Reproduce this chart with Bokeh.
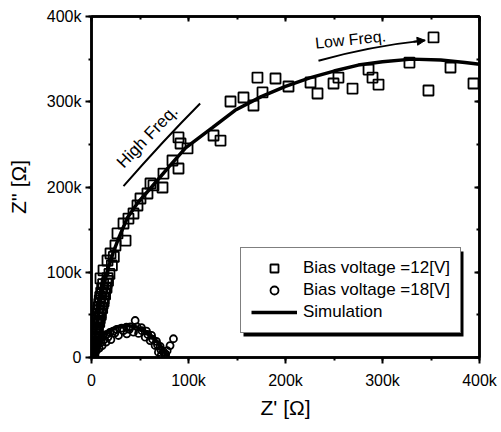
from bokeh.plotting import figure
from bokeh.models import (Range1d, SingleIntervalTicker, LinearAxis, CustomJSTickFormatter,
                          Arrow, NormalHead, Label, BoxAnnotation)
from bokeh.embed import file_html
from bokeh.resources import INLINE

# ---- data (kOhm) ----
z12_re = [0.5, 1.0, 1.5, 2.0, 2.5, 3.0, 3.5, 4.0, 4.5, 5.0, 5.5, 6.0, 6.5, 7.0, 7.5, 8.0,
          8.5, 9.0, 10.0, 11.0, 12.0,
          1.5, 2.5, 3.5, 4.5, 5.5, 6.5, 7.5, 8.5, 9.5, 10.5, 11.5, 12.5, 13.5, 14.5, 15.5, 16.5,
          2.0, 3.5, 5.0, 6.5, 8.0, 9.5, 11.0, 12.5, 14.0, 15.5, 17.0, 18.5, 21.0, 23.0,
          9.3, 12.4, 16.5, 19.6, 24.7, 26.8, 35.1, 33.0, 38.1, 43.3, 47.4, 50.5, 57.7, 60.8,
          63.9, 73.2, 74.2, 89.7, 83.5, 99.0, 91.8, 89.7, 133.0, 125.8, 143.3, 156.7, 167.0,
          176.3, 171.1, 189.7, 203.1, 225.8, 233.0, 249.5, 254.6, 269.1, 285.6, 289.7, 295.9,
          327.8, 347.4, 352.6, 370.1, 393.8]
z12_im = [3, 7, 11, 15, 19, 23, 27, 31, 35, 39, 43, 47, 51, 55, 59, 63,
          67, 71, 76, 81, 86,
          6, 12, 18, 23, 29, 35, 41, 46, 52, 58, 63, 69, 75, 81, 87, 93,
          8, 16, 25, 33, 42, 50, 58, 66, 74, 82, 90, 98, 108, 118,
          92.7, 102.1, 113.8, 122.0, 131.4, 145.5, 137.2, 157.2, 163.0, 168.9, 178.3, 186.5,
          192.4, 204.1, 201.8, 199.4, 215.8, 221.7, 231.1, 245.2, 251.0, 258.1, 254.5, 260.4,
          300.3, 305.0, 295.6, 310.9, 328.4, 327.3, 317.9, 322.6, 309.7, 321.4, 328.4, 315.5,
          337.8, 328.4, 320.2, 346.0, 313.2, 375.4, 340.2, 321.4]

z18_re = [2.0, 4.0, 6.0, 9.0, 12.0, 15.5, 19.0, 22.7, 26.0, 31.0, 36.0, 40.0, 45.0, 47.0,
          51.5, 56.7, 61.9, 67.0, 70.8, 74.2, 76.0, 84.5, 81.0, 78.0, 76.5,
          1.0, 3.0, 5.0, 8.0, 11.0, 15.0, 20.0, 27.8, 36.4, 43.3, 48.5, 55.4, 60.5, 65.6,
          69.0, 72.0,
          0.5, 1.5, 2.5, 3.5, 5.0, 7.0, 10.0, 13.0, 17.0, 24.0, 33.0, 39.0, 52.0, 58.0,
          63.0, 68.0, 71.5]
z18_im = [9, 14, 18, 22, 25, 27, 29.5, 31, 33, 34.5, 35.5, 36, 43.4, 36,
          35, 31, 26, 19, 13, 7, 2, 22, 14, 8, 4,
          3, 5, 8, 11, 14, 18, 21, 25.8, 27.8, 29.7, 28.2, 23.8, 19.9, 14.1,
          6.2, 3,
          2, 5, 7, 10, 12, 15, 18, 21, 24, 28.5, 31.5, 33, 31.5, 27,
          21.5, 15, 9]

sim12_re = [0, 2, 4, 6, 8, 10, 13, 17, 22, 28, 37, 48, 62, 80, 97, 125, 148, 175, 200,
            225, 250, 275, 300, 330, 360, 385, 400]
sim12_im = [0, 14, 28, 42, 56, 70, 86, 104, 122, 140, 164, 182, 200, 224, 246, 270, 290,
            306, 318, 328, 336, 343, 347, 350, 349, 346, 344]

sim18_re = [0, 1.5, 4, 8, 13, 20, 28, 37, 46, 54, 61, 67, 72, 76, 78.5, 79]
sim18_im = [0, 8, 15, 22, 28, 33, 36.5, 37.5, 36, 32, 26, 19.5, 12.5, 6, 1, 0]

x_label = "Z' [\u03a9]"
y_label = "Z'' [\u03a9]"
FONT = "Liberation Sans"

p = figure(width=501, height=432, x_range=Range1d(0, 400), y_range=Range1d(0, 400),
           output_backend="svg", toolbar_location=None,
           min_border_left=91, min_border_right=22, min_border_top=16, min_border_bottom=75)
p.grid.visible = False
p.outline_line_color = "black"
p.outline_line_width = 2.5

fmt = CustomJSTickFormatter(code="return tick == 0 ? '0' : tick + 'k';")
for ax in [p.xaxis[0], p.yaxis[0]]:
    ax.ticker = SingleIntervalTicker(interval=100, num_minor_ticks=2)
    ax.formatter = fmt
    ax.axis_line_width = 2.5
    ax.major_tick_line_width = 2
    ax.minor_tick_line_width = 2
    ax.major_tick_out = 6
    ax.major_tick_in = 0
    ax.minor_tick_out = 3
    ax.minor_tick_in = 0
    ax.major_label_text_font = FONT
    ax.major_label_text_font_size = "16px"
    ax.major_label_text_color = "black"
    ax.axis_label_text_font = FONT
    ax.axis_label_text_font_size = "21px"
    ax.axis_label_text_font_style = "normal"
    ax.axis_label_text_color = "black"

p.xaxis[0].axis_label = x_label
p.yaxis[0].axis_label = y_label
p.xaxis[0].major_label_standoff = 8
p.xaxis[0].axis_label_standoff = 4
p.yaxis[0].major_label_standoff = 4
p.yaxis[0].axis_label_standoff = 14

for side in ["above", "right"]:
    ax = LinearAxis(ticker=SingleIntervalTicker(interval=100, num_minor_ticks=2),
                    major_label_text_font_size="0px", major_label_standoff=0,
                    major_tick_in=5, major_tick_out=0, minor_tick_in=3, minor_tick_out=0,
                    axis_line_width=2.5, major_tick_line_width=2, minor_tick_line_width=2)
    p.add_layout(ax, side)

p.scatter(z12_re, z12_im, marker="square", size=10, fill_color=None, line_color="black",
          line_width=1.8, legend_label="Bias voltage =12[V]")
p.scatter(z18_re, z18_im, marker="circle", size=7, fill_color=None, line_color="black",
          line_width=1.8, legend_label="Bias voltage =18[V]")
p.line(sim12_re, sim12_im, line_width=3.5, line_color="black", legend_label="Simulation")
p.line(sim18_re, sim18_im, line_width=3.5, line_color="black")

# annotations
p.quadratic(x0=[33], y0=[201], x1=[112], y1=[298], cx=[74], cy=[254.5],
            line_width=2, line_color="black")
p.add_layout(Label(x=57.5, y=259, text="High Freq.", angle=46, angle_units="deg",
                   text_align="center", text_baseline="middle", text_font=FONT,
                   text_font_size="17px", text_color="black"))
p.quadratic(x0=[234], y0=[348], x1=[344], y1=[372], cx=[286], cy=[365],
            line_width=2, line_color="black")
p.add_layout(Arrow(end=NormalHead(size=8, fill_color="black", line_color="black"),
                   x_start=332, y_start=370.5, x_end=344, y_end=372,
                   line_width=2, line_color="black"))
p.add_layout(Label(x=267, y=373, text="Low Freq.", angle=6, angle_units="deg",
                   text_align="center", text_baseline="middle", text_font=FONT,
                   text_font_size="16px", text_color="black"))

# legend drop shadow (underlay)
p.add_layout(BoxAnnotation(left=156.7, right=383.5, bottom=24.6, top=124.4,
                           fill_color="black", fill_alpha=1.0, line_color=None,
                           level="underlay"))

lg = p.legend[0]
lg.location = (149, 24)
lg.margin = 0
lg.padding = 10
lg.spacing = 2
lg.glyph_width = 46
lg.glyph_height = 20
lg.label_height = 20
lg.label_standoff = 6
lg.label_text_font = FONT
lg.label_text_font_size = "17px"
lg.label_text_color = "black"
lg.border_line_color = "black"
lg.border_line_width = 1.5
lg.background_fill_alpha = 1.0

open("out.html", "w").write(file_html(p, INLINE))
